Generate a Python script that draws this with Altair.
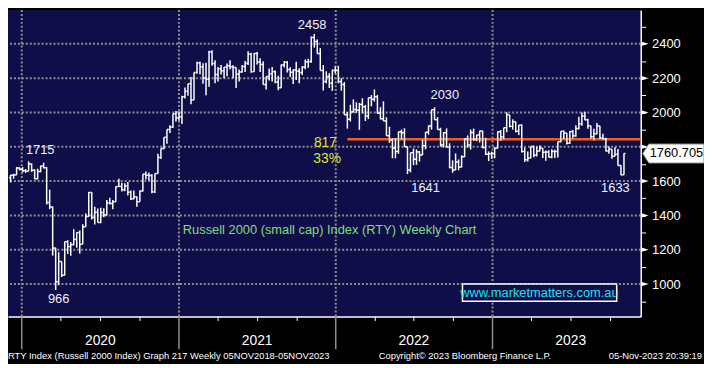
import altair as alt
import pandas as pd

# ---------------- data (weekly OHLC, RTY Index) ----------------
FIRST_WEEK = "2019-12-06"
OPEN = [
    1620, 1634, 1636, 1677,
    1669, 1660, 1658, 1700, 1663, 1614, 1656, 1688, 1678, 1476, 1449, 1210, 1014,
    1131, 1052, 1247, 1219, 1230, 1260, 1300, 1232, 1334, 1394, 1534, 1388, 1418,
    1359, 1417, 1403, 1473, 1470, 1480, 1568, 1569, 1550, 1572, 1535, 1497, 1509,
    1480, 1543, 1640, 1634, 1633, 1538, 1644, 1738, 1790, 1855, 1901, 1915, 1993, 1968,
    1975, 2091, 2123, 2168, 2073, 2233, 2289, 2266, 2201, 2193, 2352, 2285, 2221,
    2254, 2243, 2264, 2272, 2266, 2262, 2223, 2236, 2268, 2286, 2339, 2238, 2344,
    2294, 2280, 2163, 2210, 2226, 2238, 2178, 2144, 2277, 2292, 2250, 2235, 2248,
    2241, 2233, 2265, 2295, 2297, 2437, 2414, 2343, 2245, 2180, 2210, 2171, 2245,
    2245, 2180, 2163, 1987, 1961, 2003, 2017, 2014, 2047, 2033, 1979, 2086, 2077,
    2091, 1996, 1963, 1950, 1864, 1839, 1792, 1773, 1887, 1882, 1800, 1665, 1766,
    1728, 1770, 1752, 1806, 1885, 1921, 2016, 1958, 1901, 1811, 1882, 1798, 1679,
    1665, 1711, 1682, 1742, 1846, 1810, 1883, 1843, 1869, 1892, 1796, 1757, 1760,
    1761, 1792, 1887, 1858, 1911, 1986, 1919, 1946, 1890, 1926, 1773, 1725, 1734,
    1802, 1751, 1775, 1791, 1768, 1769, 1740, 1773, 1773, 1830, 1890, 1880, 1821,
    1889, 1864, 1906, 1934, 1979, 1957, 1922, 1858, 1876, 1921, 1851, 1847, 1776,
    1785, 1745, 1756, 1691, 1637,
]
HIGH = [
    1637, 1643, 1681, 1680,
    1681, 1670, 1715, 1704, 1670, 1672, 1690, 1707, 1680, 1550, 1452, 1211, 1186,
    1131, 1247, 1256, 1246, 1320, 1302, 1313, 1348, 1411, 1536, 1537, 1450, 1440,
    1445, 1442, 1490, 1503, 1490, 1569, 1614, 1590, 1588, 1595, 1545, 1545, 1510,
    1545, 1640, 1656, 1650, 1640, 1645, 1760, 1790, 1855, 1901, 1925, 1993, 2008, 2007,
    2098, 2145, 2168, 2206, 2233, 2295, 2296, 2287, 2290, 2360, 2362, 2305, 2265,
    2276, 2265, 2286, 2305, 2275, 2262, 2250, 2277, 2300, 2357, 2348, 2346, 2352,
    2316, 2299, 2210, 2256, 2265, 2245, 2214, 2280, 2300, 2300, 2264, 2251, 2296,
    2257, 2269, 2308, 2313, 2443, 2458, 2426, 2375, 2276, 2240, 2229, 2250, 2270,
    2272, 2200, 2178, 2002, 2045, 2076, 2059, 2056, 2083, 2044, 2086, 2101, 2134,
    2102, 2031, 2065, 1972, 1917, 1850, 1850, 1887, 1900, 1908, 1800, 1766, 1790,
    1785, 1775, 1841, 1885, 1925, 2016, 2030, 1973, 1911, 1885, 1907, 1820, 1721,
    1761, 1726, 1750, 1848, 1866, 1900, 1906, 1869, 1893, 1892, 1852, 1773, 1772,
    1796, 1890, 1898, 1911, 2001, 1986, 1960, 1946, 1926, 1931, 1795, 1772, 1802,
    1806, 1800, 1807, 1792, 1779, 1780, 1786, 1783, 1830, 1890, 1895, 1880, 1892,
    1898, 1925, 1975, 2000, 2004, 1963, 1923, 1905, 1939, 1923, 1876, 1852, 1802,
    1785, 1797, 1787, 1692, 1762,
]
LOW = [
    1592, 1614, 1636, 1662,
    1651, 1648, 1657, 1654, 1611, 1610, 1652, 1674, 1464, 1437, 1166, 966, 993,
    1041, 1050, 1175, 1165, 1225, 1212, 1178, 1232, 1334, 1394, 1376, 1347, 1359,
    1355, 1390, 1400, 1463, 1436, 1479, 1565, 1539, 1541, 1516, 1490, 1495, 1450,
    1480, 1540, 1610, 1603, 1529, 1530, 1644, 1729, 1785, 1818, 1880, 1910, 1947, 1952,
    1933, 2081, 2097, 2048, 2073, 2226, 2223, 2168, 2100, 2150, 2272, 2170, 2180,
    2221, 2200, 2211, 2250, 2200, 2142, 2180, 2232, 2236, 2277, 2232, 2238, 2279,
    2236, 2163, 2134, 2186, 2180, 2170, 2129, 2144, 2262, 2233, 2207, 2166, 2189,
    2170, 2218, 2252, 2260, 2290, 2378, 2343, 2245, 2128, 2170, 2143, 2126, 2227,
    2170, 2127, 1987, 1906, 1948, 2000, 1998, 1899, 1994, 1950, 1962, 2036, 2064,
    1993, 1960, 1950, 1864, 1823, 1733, 1733, 1759, 1841, 1800, 1641, 1651, 1693,
    1695, 1714, 1752, 1785, 1870, 1900, 1957, 1900, 1801, 1796, 1798, 1675, 1649,
    1665, 1663, 1680, 1740, 1795, 1784, 1836, 1833, 1825, 1791, 1752, 1717, 1730,
    1733, 1790, 1835, 1844, 1885, 1914, 1900, 1884, 1868, 1767, 1712, 1714, 1733,
    1739, 1743, 1773, 1734, 1718, 1738, 1733, 1735, 1737, 1826, 1845, 1813, 1816,
    1850, 1858, 1901, 1923, 1954, 1905, 1848, 1838, 1873, 1845, 1842, 1773, 1760,
    1731, 1745, 1690, 1634, 1637,
]
CLOSE = [
    1634, 1636, 1677, 1669,
    1660, 1658, 1700, 1663, 1614, 1656, 1688, 1678, 1476, 1449, 1210, 1014, 1131,
    1052, 1247, 1219, 1230, 1260, 1300, 1232, 1334, 1394, 1534, 1388, 1418, 1359,
    1417, 1403, 1473, 1470, 1480, 1568, 1569, 1550, 1572, 1535, 1497, 1509, 1480,
    1543, 1640, 1634, 1633, 1538, 1644, 1738, 1790, 1855, 1901, 1915, 1993, 1968, 1975,
    2091, 2123, 2168, 2073, 2233, 2289, 2266, 2201, 2193, 2352, 2285, 2221, 2254,
    2243, 2264, 2272, 2266, 2262, 2223, 2236, 2268, 2286, 2339, 2238, 2344, 2294,
    2280, 2163, 2210, 2226, 2238, 2178, 2144, 2277, 2292, 2250, 2235, 2248, 2241,
    2233, 2265, 2295, 2297, 2437, 2414, 2343, 2245, 2180, 2210, 2171, 2245, 2245,
    2180, 2163, 1987, 1961, 2003, 2017, 2014, 2047, 2033, 1979, 2086, 2077, 2091,
    1996, 1963, 1950, 1864, 1839, 1792, 1773, 1887, 1882, 1800, 1665, 1766, 1728,
    1770, 1752, 1806, 1885, 1921, 2016, 1958, 1901, 1811, 1882, 1798, 1679, 1665,
    1711, 1682, 1742, 1846, 1810, 1883, 1843, 1869, 1892, 1796, 1757, 1760, 1761,
    1792, 1887, 1858, 1911, 1986, 1919, 1946, 1890, 1926, 1773, 1725, 1734, 1802,
    1751, 1775, 1791, 1768, 1769, 1740, 1773, 1773, 1830, 1890, 1880, 1821, 1889,
    1864, 1906, 1934, 1979, 1957, 1922, 1858, 1876, 1921, 1851, 1847, 1776, 1785,
    1745, 1756, 1691, 1637, 1760.705,
]

GRID_LEVELS = [1000, 1200, 1400, 1600, 1800, 2000, 2200, 2400]
AXIS_TICKS = [900, 1000, 1100, 1200, 1300, 1400, 1500, 1600, 1700, 1800,
              1900, 2000, 2100, 2200, 2300, 2400, 2500]
AXIS_LABELS = [1000, 1200, 1400, 1600, 2000, 2200, 2400]   # 1800 sits under the last-price box
YEAR_STARTS = ["2020-01-01", "2021-01-01", "2022-01-01", "2023-01-01"]
YEAR_LABELS = ["2020", "2021", "2022", "2023"]
YEAR_MIDS = ["2020-07-02", "2021-07-02", "2022-07-02", "2023-07-02"]
QUARTERS = [(y, m) for y in (2020, 2021, 2022, 2023) for m in (4, 7, 10)]

LEVEL_VALUE = 1844
LEVEL_FROM, LEVEL_TO = "2022-01-28", "2023-12-12"
LAST_PRICE = 1760.705

ANN_TEXT = ["1715", "966", "2458", "2030", "1641", "1633"]
ANN_DATE = ["2020-02-13", "2020-03-27", "2021-11-07", "2022-09-12", "2022-07-29", "2023-10-14"]
ANN_VALUE = [1782, 911, 2507, 2102, 1557, 1557]

YEL_TEXT = ["817", "33%"]
YEL_DATE = ["2021-12-08", "2021-12-12"]
YEL_VALUE = [1824, 1731]

TITLE_TEXT = "Russell 2000 (small cap) Index (RTY) Weekly Chart"
TITLE_DATE, TITLE_VALUE = "2021-01-10", 1316
WWW_TEXT = "www.marketmatters.com.au"
WWW_BOX = ("2022-10-23", "2023-10-17", 1001, 900)
WWW_AT = ("2023-04-20", 950)

FOOT_LEFT = "RTY Index (Russell 2000 Index) Graph 217  Weekly 05NOV2018-05NOV2023"
FOOT_MID = "Copyright\u00a9 2023 Bloomberg Finance L.P."
FOOT_RIGHT = "05-Nov-2023 20:39:19"

# ---------------- styling ----------------
NAVY = "#100e48"
GRID = "#8e8e8e"
WHITE = "#ffffff"
ORANGE = "#fa5a14"
YELLOW = "#e4e42c"
GREEN = "#80dc80"
CYAN = "#1ee0f0"
FONT = "Liberation Sans"
PLOT_W, PLOT_H = 640, 310

dates = pd.date_range(FIRST_WEEK, periods=len(CLOSE), freq="W-FRI")
df = pd.DataFrame({"date": dates, "open": OPEN, "high": HIGH, "low": LOW, "close": CLOSE})
df["d_left"] = df["date"] - pd.Timedelta(hours=84)
df["d_right"] = df["date"] + pd.Timedelta(hours=84)

xscale = alt.Scale(domain=[alt.DateTime(year=2019, month=11, date=30),
                           alt.DateTime(year=2023, month=12, date=12)], nice=False)
yscale = alt.Scale(domain=[811, 2597], nice=False, zero=False)

label_test = " || ".join(f"datum.value == {v}" for v in AXIS_LABELS)
xaxis = alt.Axis(values=[alt.DateTime(year=y, month=m, date=1) for y, m in QUARTERS],
                 labels=False, ticks=True, tickSize=4, tickColor=WHITE, tickWidth=1,
                 domain=True, domainColor=WHITE, domainWidth=1.5, grid=False, title=None)
yaxis = alt.Axis(orient="right", values=AXIS_TICKS,
                 labelExpr=f"({label_test}) ? format(datum.value, 'd') : ''",
                 tickSize=5, tickColor=WHITE, tickWidth=1, domainColor=WHITE, domainWidth=1.5,
                 grid=False, labelColor=WHITE, labelFont=FONT, labelFontSize=13,
                 labelPadding=6, labelOverlap=False, title=None)


def X(f):
    return alt.X(f, type="temporal", scale=xscale, axis=xaxis, title=None)


def Y(f):
    return alt.Y(f, type="quantitative", scale=yscale, axis=yaxis, title=None)


hgrid = alt.Chart(pd.DataFrame({"v": GRID_LEVELS})).mark_rule(
    color=GRID, strokeWidth=2, strokeDash=[2, 2]).encode(y=Y("v"))
ys = pd.DataFrame({"d": pd.to_datetime(YEAR_STARTS)})
vgrid = alt.Chart(ys).mark_rule(color=GRID, strokeWidth=2, strokeDash=[2, 2]).encode(x=X("d"))
yticks = alt.Chart(ys).mark_rule(color=GRID, strokeWidth=1.5).encode(
    x=X("d"), y=alt.value(PLOT_H), y2=alt.value(PLOT_H + 33))

level = alt.Chart(pd.DataFrame({"d1": [pd.Timestamp(LEVEL_FROM)], "d2": [pd.Timestamp(LEVEL_TO)],
                                "v": [LEVEL_VALUE]})).mark_rule(
    color=ORANGE, strokeWidth=2.5).encode(x=X("d1"), x2=alt.X2("d2"), y=Y("v"))

base = alt.Chart(df)
hl = base.mark_rule(color=WHITE, strokeWidth=1.5).encode(x=X("date"), y=Y("low"), y2=alt.Y2("high"))
op = base.mark_rule(color=WHITE, strokeWidth=1.5).encode(x=X("d_left"), x2=alt.X2("date"), y=Y("open"))
cl = base.mark_rule(color=WHITE, strokeWidth=1.5).encode(x=X("date"), x2=alt.X2("d_right"), y=Y("close"))

ann = alt.Chart(pd.DataFrame({"t": ANN_TEXT, "d": pd.to_datetime(ANN_DATE), "v": ANN_VALUE})).mark_text(
    font=FONT, fontSize=13, color="#eef2ff", align="center", baseline="middle").encode(
    x=X("d"), y=Y("v"), text="t")
yel = alt.Chart(pd.DataFrame({"t": YEL_TEXT, "d": pd.to_datetime(YEL_DATE), "v": YEL_VALUE})).mark_text(
    font=FONT, fontSize=14, color=YELLOW, align="center", baseline="middle").encode(
    x=X("d"), y=Y("v"), text="t")
title = alt.Chart(pd.DataFrame({"t": [TITLE_TEXT], "d": [pd.Timestamp(TITLE_DATE)], "v": [TITLE_VALUE]})).mark_text(
    font=FONT, fontSize=13, color=GREEN, align="left", baseline="middle").encode(
    x=X("d"), y=Y("v"), text="t")

wbox = alt.Chart(pd.DataFrame({"d1": [pd.Timestamp(WWW_BOX[0])], "d2": [pd.Timestamp(WWW_BOX[1])],
                               "v1": [WWW_BOX[2]], "v2": [WWW_BOX[3]]})).mark_rect(
    fill=NAVY, stroke=WHITE, strokeWidth=1.5).encode(
    x=X("d1"), x2=alt.X2("d2"), y=Y("v1"), y2=alt.Y2("v2"))
wtext = alt.Chart(pd.DataFrame({"t": [WWW_TEXT], "d": [pd.Timestamp(WWW_AT[0])], "v": [WWW_AT[1]]})).mark_text(
    font=FONT, fontSize=13, color=CYAN, align="center", baseline="middle").encode(
    x=X("d"), y=Y("v"), text="t")

tri = alt.Chart(pd.DataFrame({"v": GRID_LEVELS})).mark_point(
    shape="M -1 -0.6 L 1 0 L -1 0.6 Z", filled=True, fill=WHITE, opacity=1, size=64, strokeWidth=0).encode(
    x=alt.value(PLOT_W + 4), y=Y("v"))

lastbox = alt.Chart(pd.DataFrame({"v": [LAST_PRICE]})).mark_point(
    shape="M -1 0 L -0.8 -0.31 L 1 -0.31 L 1 0.31 L -0.8 0.31 Z", filled=True, fill=WHITE,
    stroke="#8a8a8a", strokeWidth=1, opacity=1, size=3844).encode(
    x=alt.value(PLOT_W + 33), y=Y("v"))
lasttext = alt.Chart(pd.DataFrame({"v": [LAST_PRICE], "t": [f"{LAST_PRICE:.3f}"]})).mark_text(
    font=FONT, fontSize=13, color="#000000", align="left", baseline="middle").encode(
    x=alt.value(PLOT_W + 9), y=Y("v"), text="t")

ylab = alt.Chart(pd.DataFrame({"t": YEAR_LABELS, "d": pd.to_datetime(YEAR_MIDS)})).mark_text(
    font=FONT, fontSize=14, color=WHITE, align="center", baseline="middle").encode(
    x=X("d"), y=alt.value(PLOT_H + 25), text="t")

FOOT_Y = PLOT_H + 40
foot_l = alt.Chart(pd.DataFrame({"t": [FOOT_LEFT]})).mark_text(
    font=FONT, fontSize=9.5, color=WHITE, align="left", baseline="middle").encode(
    x=alt.value(0), y=alt.value(FOOT_Y), text="t")
foot_m = alt.Chart(pd.DataFrame({"t": [FOOT_MID]})).mark_text(
    font=FONT, fontSize=9.5, color=WHITE, align="left", baseline="middle").encode(
    x=alt.value(375), y=alt.value(FOOT_Y), text="t")
foot_r = alt.Chart(pd.DataFrame({"t": [FOOT_RIGHT]})).mark_text(
    font=FONT, fontSize=9.5, color=WHITE, align="right", baseline="middle").encode(
    x=alt.value(702), y=alt.value(FOOT_Y), text="t")

chart = alt.layer(
    hgrid, vgrid, yticks, level, hl, op, cl, ann, yel, title, wbox, wtext,
    tri, lastbox, lasttext, ylab, foot_l, foot_m, foot_r
).properties(
    width=PLOT_W, height=PLOT_H,
    autosize=alt.AutoSizeParams(type="none"),
    padding={"left": 0, "top": 0, "right": 64, "bottom": 46},
    background="#000000",
).configure_view(fill=NAVY, strokeWidth=0)

chart.save("out.html", embed_options={"renderer": "svg", "actions": False})
